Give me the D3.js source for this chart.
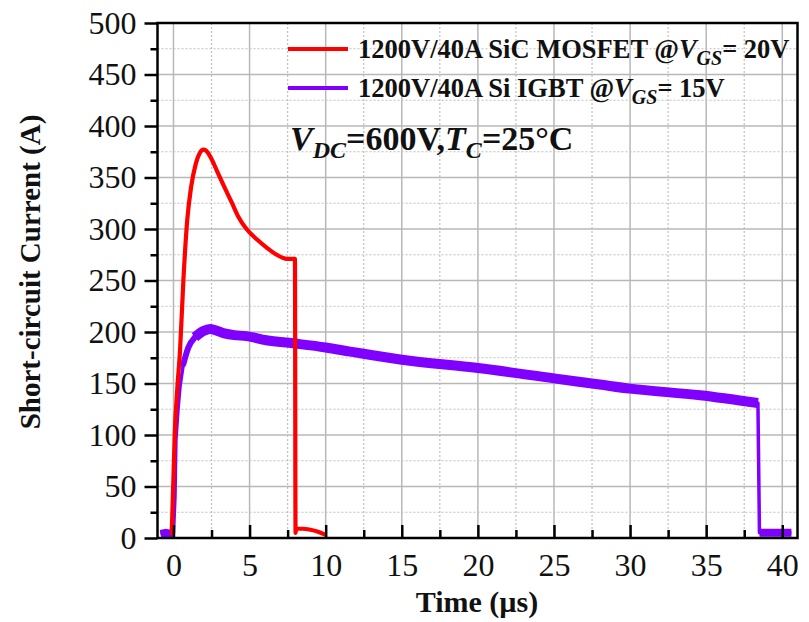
<!DOCTYPE html>
<html><head><meta charset="utf-8">
<script src="https://cdn.jsdelivr.net/npm/d3@7"></script>
<style>body{margin:0;background:#fff}</style>
</head><body>
<svg id="c" width="809" height="622"></svg>
<script>
// ---------- data ----------
const xTicks = [0, 5, 10, 15, 20, 25, 30, 35, 40];
const xMinorTicks = [2.5, 7.5, 12.5, 17.5, 22.5, 27.5, 32.5, 37.5];
const yTicks = [0, 50, 100, 150, 200, 250, 300, 350, 400, 450, 500];
const yMinorTicks = [25, 75, 125, 175, 225, 275, 325, 375, 425, 475];

// 1200V/40A SiC MOSFET (time in µs, current in A)
const sicTime = [-0.12, 0.0, 0.08, 0.25, 0.43, 0.65, 0.9, 1.15, 1.46, 1.74, 1.96, 2.15, 2.35, 2.6, 2.84, 3.27, 3.82, 4.26, 4.8, 5.47, 6.12, 6.78, 7.44, 7.98, 8.02, 8.06, 8.5, 9.0, 9.5, 10.0];
const sicCurrent = [3, 60, 100, 145, 182, 250, 308, 340, 363, 374, 377, 376, 372, 365, 357, 343, 326, 312, 300, 290, 282, 275, 271, 271, 5, 9, 9, 8, 6, 3];

// 1200V/40A Si IGBT
const igbtTime = [-0.85, -0.5, -0.2, 0.0, 0.1, 0.16, 0.3, 0.43, 0.65, 0.98, 1.41, 1.96, 2.4, 3.27, 4.0, 4.8, 6.1, 7.87, 10, 11.6, 15, 20, 25, 28, 30, 34.6, 38.4, 38.5, 39, 40, 40.6];
const igbtCurrent = [4, 5, 4, 5, 40, 95, 125, 147, 169, 185, 195, 201, 203, 199, 197, 196, 192, 189, 185, 181, 173, 165, 155, 149, 145, 138.6, 131, 5, 5, 5, 5];

const legendLabels = ["1200V/40A SiC MOSFET @", "1200V/40A Si IGBT @"];
const legendGate = ["= 20V", "= 15V"];
const seriesColors = ["#ff0000", "#7f00ff"];

// ---------- layout ----------
const L = 157.5, R = 797.5, T = 23, B = 538;
const x = d3.scaleLinear().domain([-1.05, 41.0]).range([L, R]);
const y = d3.scaleLinear().domain([0, 500]).range([B, T]);
const svg = d3.select("#c");
const font = '"Liberation Serif","Times New Roman",serif';

const sic = sicTime.map((t, i) => ({t, v: sicCurrent[i]}));
const igbt = igbtTime.map((t, i) => ({t, v: igbtCurrent[i]}));

// ---------- grid ----------
const g = svg.append("g").attr("class", "grid");
g.selectAll("line.gxs").data(xTicks).join("line").attr("class", "gxs")
  .attr("x1", d => x(d)).attr("x2", d => x(d)).attr("y1", T).attr("y2", B)
  .attr("stroke", "#b8b8b8").attr("stroke-width", 1.5);
g.selectAll("line.gxm").data(xMinorTicks).join("line").attr("class", "gxm")
  .attr("x1", d => x(d)).attr("x2", d => x(d)).attr("y1", T).attr("y2", B)
  .attr("stroke", "#c0c0c0").attr("stroke-width", 1.2).attr("stroke-dasharray", "2,2");
g.selectAll("line.gys").data(yTicks.filter(v => v > 0 && v < 500)).join("line").attr("class", "gys")
  .attr("y1", d => y(d)).attr("y2", d => y(d)).attr("x1", L).attr("x2", R)
  .attr("stroke", "#b8b8b8").attr("stroke-width", 1.5);
g.selectAll("line.gym").data(yMinorTicks).join("line").attr("class", "gym")
  .attr("y1", d => y(d)).attr("y2", d => y(d)).attr("x1", L).attr("x2", R)
  .attr("stroke", "#c0c0c0").attr("stroke-width", 1.2).attr("stroke-dasharray", "2,2");

// ---------- curves ----------
svg.append("clipPath").attr("id", "clip").append("rect")
  .attr("x", L).attr("y", T).attr("width", R - L).attr("height", B - T);
const plot = svg.append("g").attr("clip-path", "url(#clip)");
const mkLine = () => d3.line().x(d => x(d.t)).y(d => y(d.v));

plot.append("path").datum(igbt).attr("d", mkLine())
  .attr("fill", "none").attr("stroke", seriesColors[1]).attr("stroke-width", 3.5).attr("stroke-linejoin", "round");
plot.append("path").datum(igbt)
  .attr("d", mkLine().defined(d => d.t >= 0.65 && d.t <= 1.41).curve(d3.curveMonotoneX))
  .attr("fill", "none").attr("stroke", seriesColors[1]).attr("stroke-width", 6).attr("stroke-linecap", "round");
plot.append("path").datum(igbt)
  .attr("d", mkLine().defined(d => d.t >= 1.41 && d.t <= 38.4).curve(d3.curveMonotoneX))
  .attr("fill", "none").attr("stroke", seriesColors[1]).attr("stroke-width", 10).attr("stroke-linejoin", "round");
plot.append("path").datum(igbt)
  .attr("d", mkLine().defined(d => d.t <= 0 || d.t >= 38.5))
  .attr("fill", "none").attr("stroke", seriesColors[1]).attr("stroke-width", 8);

plot.append("path").datum(sic).attr("d", mkLine().curve(d3.curveMonotoneX))
  .attr("fill", "none").attr("stroke", seriesColors[0]).attr("stroke-width", 4.2).attr("stroke-linejoin", "round");

// ---------- axes ----------
function styleAxis(sel) {
  sel.select(".domain").remove();
  sel.selectAll(".tick line").attr("stroke", "#000").attr("stroke-width", 2.5);
  sel.selectAll("text").attr("font-family", font).attr("font-size", 32).attr("fill", "#111");
}
svg.append("g").attr("transform", `translate(${L},0)`)
  .call(d3.axisLeft(y).tickValues(yTicks).tickSize(13).tickPadding(8)).call(styleAxis);
svg.append("g").attr("transform", `translate(${L},0)`)
  .call(d3.axisLeft(y).tickValues(yMinorTicks).tickSize(7).tickFormat("")).call(styleAxis);
svg.append("g").attr("transform", `translate(0,${B})`)
  .call(d3.axisBottom(x).tickValues(xTicks).tickSizeInner(-13).tickSizeOuter(0).tickPadding(15)).call(styleAxis);
svg.append("g").attr("transform", `translate(0,${B})`)
  .call(d3.axisBottom(x).tickValues(xMinorTicks).tickSizeInner(-8).tickSizeOuter(0).tickFormat("")).call(styleAxis);

svg.append("rect").attr("x", L).attr("y", T).attr("width", R - L).attr("height", B - T)
  .attr("fill", "none").attr("stroke", "#000").attr("stroke-width", 2.5);

// ---------- titles ----------
svg.append("text").attr("transform", "translate(40,272) rotate(-90)")
  .attr("text-anchor", "middle").attr("font-family", font).attr("font-weight", "bold")
  .attr("font-size", 29).attr("fill", "#111").text("Short-circuit Current (A)");
svg.append("text").attr("x", 477).attr("y", 612)
  .attr("text-anchor", "middle").attr("font-family", font).attr("font-weight", "bold")
  .attr("font-size", 30).attr("fill", "#111").text("Time (\u00b5s)");

// ---------- legend ----------
const lg = svg.append("g");
legendLabels.forEach((lab, i) => {
  const ly = 49 + i * 39;
  lg.append("line").attr("x1", 288).attr("x2", 348).attr("y1", ly).attr("y2", ly)
    .attr("stroke", seriesColors[i]).attr("stroke-width", 4);
  const t = lg.append("text").attr("x", 358).attr("y", ly + 9)
    .attr("font-family", font).attr("font-weight", "bold").attr("font-size", 26.5).attr("fill", "#111");
  t.append("tspan").text(lab);
  t.append("tspan").attr("font-style", "italic").text("V");
  t.append("tspan").attr("font-style", "italic").attr("font-size", 20).attr("dy", 7).text("GS");
  t.append("tspan").attr("dy", -7).text(legendGate[i]);
});

// ---------- annotation ----------
const an = svg.append("text").attr("x", 290).attr("y", 150)
  .attr("font-family", font).attr("font-weight", "bold").attr("font-size", 34).attr("fill", "#111");
an.append("tspan").attr("font-style", "italic").text("V");
an.append("tspan").attr("font-style", "italic").attr("font-size", 24).attr("dy", 8).text("DC");
an.append("tspan").attr("dy", -8).text("=600V,");
an.append("tspan").attr("font-style", "italic").text("T");
an.append("tspan").attr("font-style", "italic").attr("font-size", 24).attr("dy", 8).text("C");
an.append("tspan").attr("dy", -8).text("=25\u00b0C");
</script>
</body></html>
